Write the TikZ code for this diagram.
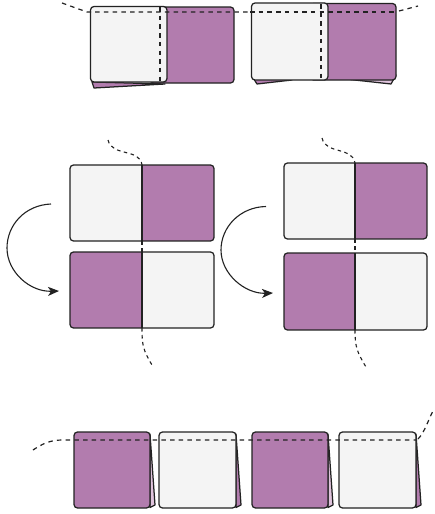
\documentclass[tikz,border=0pt]{standalone}
\usetikzlibrary{arrows.meta}
\definecolor{plum}{HTML}{B27CAE}
\definecolor{paper}{HTML}{F4F4F4}
\definecolor{lightplum}{HTML}{DFC3DC}
\definecolor{ink}{HTML}{222222}
\tikzset{
  edge/.style={draw=ink,line width=1.25pt,line join=round},
  card/.style={edge,rounded corners=3.5pt},
  fold/.style={draw=ink,line width=1.2pt,dash pattern=on 4.5pt off 4.2pt},
  foldv/.style={draw=ink,line width=1.1pt,dash pattern=on 3.5pt off 3.5pt},
  turn/.style={draw=ink,line width=1.1pt,-{Stealth[length=11pt,width=9pt,inset=3pt]}}
}
% two-tone sheet: x0, split, x1, y0, y1, left colour, right colour
\newcommand{\sheet}[7]{%
  \begin{scope}
    \clip[rounded corners=3.5pt] (#1,#4) rectangle (#3,#5);
    \fill[#6] (#1,#4) rectangle (#2,#5);
    \fill[#7] (#2,#4) rectangle (#3,#5);
  \end{scope}
  \path[card] (#1,#4) rectangle (#3,#5);
  \draw[edge] (#2,#4) -- (#2,#5);
}
\begin{document}
\begin{tikzpicture}[x=1pt,y=-1pt]
\useasboundingbox[fill=white] (0,0) rectangle (434,514);

% --- top row, left sheet
\path[edge,fill=plum] (92,82) -- (94,88) -- (165,84) -- cycle;
\path[card,fill=plum] (150,7) rectangle (234,83);
\path[card,fill=paper] (90.5,6.5) rectangle (167,82);
\draw[fold] (62,3) -- (87,12) -- (234,12) -- (250,12);
\draw[fold] (160,7) -- (160,83);

% --- top row, right sheet
\path[edge,fill=plum] (252,76) -- (257,84) -- (292,80) -- cycle;
\path[edge,fill=lightplum] (396,75) -- (391,84) -- (350,79.5) -- cycle;
\path[card,fill=plum] (310,3.5) rectangle (396,80);
\path[card,fill=paper] (251.5,3) rectangle (328,80);
\draw[fold] (250,12) -- (396,12);
\draw[fold] (399,11) -- (418,6);
\draw[fold] (321,4) -- (321,80);

% --- middle left
\sheet{70}{142}{214}{165}{241}{paper}{plum}
\sheet{70}{142}{214}{252}{328}{plum}{paper}
\draw[foldv] (108,140) .. controls (112,157) and (140,148) .. (142,165);
\draw[foldv] (142,241) -- (142,252);
\draw[foldv] (142,328) .. controls (142,345) and (143,350) .. (152,365);
\draw[turn] (51,204) .. controls (25,205) and (7,225) .. (7,248) .. controls (7,272) and (30,292) .. (59,291);

% --- middle right
\sheet{284}{355}{427}{163}{239}{paper}{plum}
\sheet{284}{355}{427}{253}{330}{plum}{paper}
\draw[foldv] (322,138) .. controls (326,155) and (352,146) .. (355,163);
\draw[foldv] (355,239) -- (355,253);
\draw[foldv] (355,330) .. controls (355,347) and (357,352) .. (366,367);
\draw[turn] (266,206.5) .. controls (240,207) and (221,227) .. (221,250) .. controls (221,274) and (245,294) .. (273,293);

% --- bottom row
\path[edge,fill=lightplum] (150,434) -- (155,505) -- (150,507.5) -- cycle;
\path[card,fill=plum] (74,432) rectangle (150,508);
\path[edge,fill=plum] (236,434) -- (241,505) -- (236,507.5) -- cycle;
\path[card,fill=paper] (159,432) rectangle (236,508);
\path[edge,fill=lightplum] (328,434) -- (333,505) -- (328,507.5) -- cycle;
\path[card,fill=plum] (252,432) rectangle (328,508);
\path[edge,fill=plum] (416,434) -- (421,505) -- (416,507.5) -- cycle;
\path[card,fill=paper] (339,432) rectangle (416,508);
\draw[fold] (33,450) .. controls (42,444) and (50,440) .. (62,440) -- (416,440);
\draw[fold] (418,439) .. controls (425,432) and (428,420) .. (434,409);
\end{tikzpicture}
\end{document}
